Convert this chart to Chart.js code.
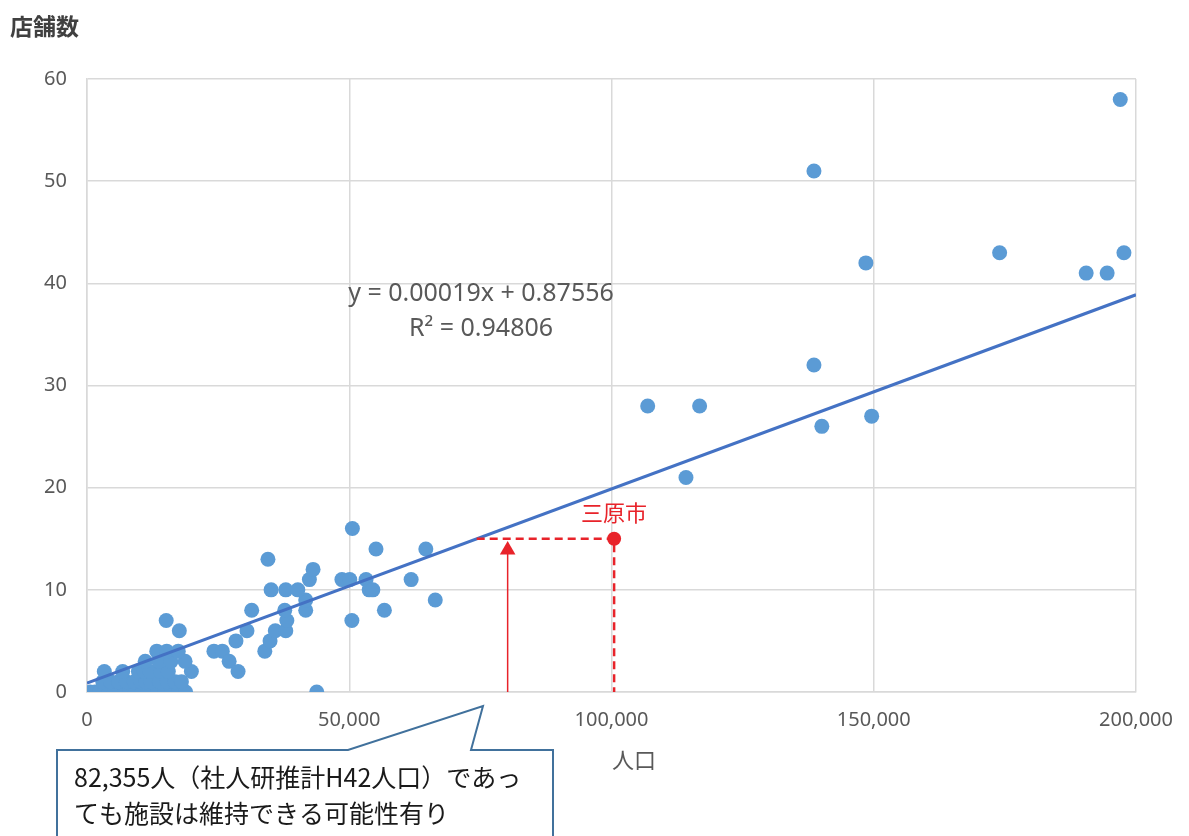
<!DOCTYPE html>
<html lang="ja">
<head>
<meta charset="utf-8">
<title>人口と店舗数</title>
<script src="https://cdn.jsdelivr.net/npm/chart.js@4/dist/chart.umd.min.js"></script>
<style>
    html, body { margin: 0; padding: 0; background: #ffffff; }
    #wrap { width: 1189px; height: 836px; position: relative; }
</style>
</head>
<body>
<div id="wrap"><canvas id="scatterChart" width="1189" height="836"></canvas></div>
<script>
// Population (x) and store count (y) for each municipality
const popX = [
    600, 1500, 2400, 3300, 4200, 5200, 6200, 7200, 8200, 9200, 10500, 11500, 13500, 14800, 16200, 17500, 18800,
    3000, 4500, 6000, 7500, 9000, 10300, 11200, 12200, 13800, 15300, 16800, 18000,
    3300, 6800, 9800, 10900, 12000, 14000, 15500, 19900,
    11100, 13700, 16000, 18700,
    13300, 15200, 17400,
    17600, 15100,
    24200, 25800, 27100, 28800, 28400, 30500, 31400, 33900, 34900, 35900, 37900, 38100, 37700, 41700, 41700,
    35100, 37900, 40200, 42400, 43100, 34500, 43800,
    48600, 50100, 50500, 50600, 53200, 53800, 54500, 55100, 56700, 61800, 64600, 66400,
    106900, 116800, 114200, 138600, 138600, 140100, 148500, 149600, 174000, 190500, 194500, 197000, 197700
];
const storeY = [
    0, 0, 0, 0, 0, 0, 0, 0, 0, 0, 0, 0, 0, 0, 0, 0, 0,
    1, 1, 1, 1, 1, 1, 1, 1, 1, 1, 1, 1,
    2, 2, 2, 2, 2, 2, 2, 2,
    3, 3, 3, 3,
    4, 4, 4,
    6, 7,
    4, 4, 3, 2, 5, 6, 8, 4, 5, 6, 6, 7, 8, 8, 9,
    10, 10, 10, 11, 12, 13, 0,
    11, 11, 7, 16, 11, 10, 10, 14, 8, 11, 14, 9,
    28, 28, 21, 51, 32, 26, 42, 27, 43, 41, 41, 58, 43
];

// Linear trendline end points (y = 0.00019x + 0.87556)
const trendX = [0, 200000];
const trendY = [0.88, 38.88];

// 三原市 and the H42 projection guide
const miharaX = [100500];
const miharaY = [15];
const guideX = [74300, 100500, 100500];
const guideY = [15, 15, 0];
const arrowX = [80200, 80200];
const arrowY = [0, 13.9];

const xTicks = [0, 50000, 100000, 150000, 200000];
const yTicks = [0, 10, 20, 30, 40, 50, 60];

const equationLines = ['y = 0.00019x + 0.87556', 'R² = 0.94806'];
const calloutLines = ['82,355人（社人研推計H42人口）であっ', 'ても施設は維持できる可能性有り'];

function toPoints(xs, ys) {
    return xs.map((x, i) => ({ x: x, y: ys[i] }));
}

const JP_FONT = '"Noto Sans CJK JP", "Noto Sans", sans-serif';
const GRID = '#d9d9d9';
const RED = '#e8232a';

// Texts, equation and the callout balloon
const annotationPlugin = {
    id: 'annotations',
    afterDraw(chart) {
        const ctx = chart.ctx;
        const xs = chart.scales.x;
        const ys = chart.scales.y;
        ctx.save();

        // axis titles
        ctx.fillStyle = '#404040';
        ctx.font = 'bold 23px ' + JP_FONT;
        ctx.textAlign = 'left';
        ctx.textBaseline = 'middle';
        ctx.fillText('店舗数', 10, 26);

        ctx.fillStyle = '#595959';
        ctx.font = '22px ' + JP_FONT;
        ctx.textAlign = 'center';
        ctx.fillText('人口', 634, 760);

        // trendline equation
        ctx.font = '25px "Noto Sans", sans-serif';
        ctx.fillText(equationLines[0], 481, 294);
        ctx.fillText(equationLines[1], 481, 329);

        // 三原市 label
        ctx.fillStyle = RED;
        ctx.font = '22px ' + JP_FONT;
        ctx.fillText('三原市', xs.getPixelForValue(miharaX[0]), ys.getPixelForValue(miharaY[0]) - 26);

        // callout balloon
        ctx.beginPath();
        ctx.moveTo(57, 750);
        ctx.lineTo(348, 750);
        ctx.lineTo(483, 706);
        ctx.lineTo(471, 750);
        ctx.lineTo(553, 750);
        ctx.lineTo(553, 845);
        ctx.lineTo(57, 845);
        ctx.closePath();
        ctx.fillStyle = '#ffffff';
        ctx.fill();
        ctx.lineWidth = 2;
        ctx.strokeStyle = '#41719c';
        ctx.stroke();

        ctx.fillStyle = '#1a1a1a';
        ctx.font = '25px ' + JP_FONT;
        ctx.textAlign = 'left';
        ctx.fillText(calloutLines[0], 74, 777);
        ctx.fillText(calloutLines[1], 74, 813);

        ctx.restore();
    }
};

const ctx = document.getElementById('scatterChart').getContext('2d');

new Chart(ctx, {
    type: 'scatter',
    data: {
        datasets: [{
            label: '三原市',
            data: toPoints(miharaX, miharaY),
            backgroundColor: RED,
            borderWidth: 0,
            pointRadius: 7,
            order: -2
        }, {
            type: 'line',
            label: 'guide',
            data: toPoints(guideX, guideY),
            borderColor: RED,
            borderWidth: 2.5,
            borderDash: [8, 5],
            pointRadius: 0,
            fill: false,
            order: -1
        }, {
            type: 'line',
            label: 'arrow',
            data: toPoints(arrowX, arrowY),
            borderColor: RED,
            backgroundColor: RED,
            borderWidth: 1.5,
            pointRadius: [0, 9],
            pointStyle: 'triangle',
            pointBorderWidth: 0,
            fill: false,
            order: -1
        }, {
            type: 'line',
            label: 'trend',
            data: toPoints(trendX, trendY),
            borderColor: '#4472c4',
            borderWidth: 3,
            pointRadius: 0,
            fill: false,
            order: 0
        }, {
            label: '店舗数',
            data: toPoints(popX, storeY),
            backgroundColor: '#5b9bd5',
            borderWidth: 0,
            pointRadius: 7.5,
            pointHoverRadius: 7.5,
            order: 1
        }]
    },
    options: {
        responsive: false,
        animation: false,
        layout: {
            padding: { left: 0, top: 79, right: 45, bottom: 0 }
        },
        plugins: {
            legend: { display: false },
            tooltip: { enabled: false }
        },
        scales: {
            x: {
                type: 'linear',
                min: 0,
                max: 200000,
                afterBuildTicks: (scale) => { scale.ticks = xTicks.map(v => ({ value: v })); },
                afterFit: (scale) => { scale.height = 144; },
                grid: { color: GRID, lineWidth: 1.5, drawTicks: false },
                border: { color: GRID, width: 1.5 },
                ticks: {
                    padding: 16,
                    color: '#595959',
                    font: { family: '"Noto Sans", sans-serif', size: 20 },
                    callback: (v) => v.toLocaleString('en-US')
                }
            },
            y: {
                min: 0,
                max: 60,
                afterBuildTicks: (scale) => { scale.ticks = yTicks.map(v => ({ value: v })); },
                afterFit: (scale) => { scale.width = 87; },
                grid: { color: GRID, lineWidth: 1.5, drawTicks: false },
                border: { color: GRID, width: 1.5 },
                ticks: {
                    padding: 20,
                    color: '#595959',
                    font: { family: '"Noto Sans", sans-serif', size: 20 }
                }
            }
        }
    },
    plugins: [annotationPlugin]
});
</script>
</body>
</html>
